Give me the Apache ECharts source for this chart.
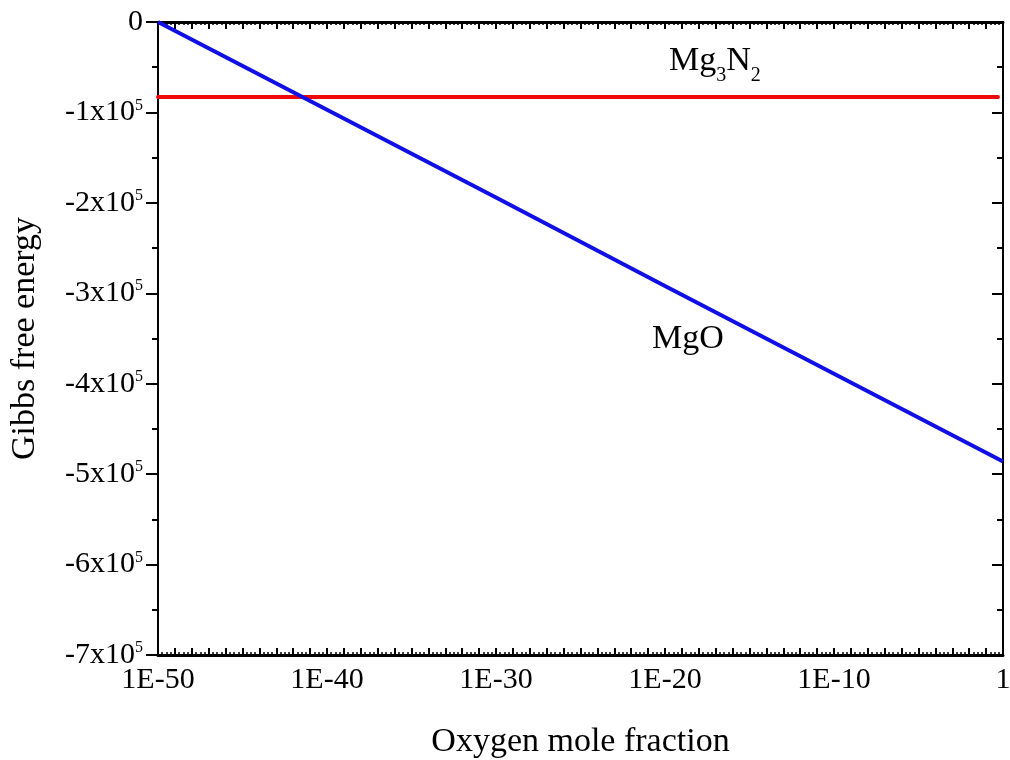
<!DOCTYPE html>
<html>
<head>
<meta charset="utf-8">
<script src="https://cdn.jsdelivr.net/npm/echarts@6/dist/echarts.min.js"></script>
<style>html,body{margin:0;padding:0;background:#fff}#c{width:1010px;height:760px}</style>
</head>
<body>
<div id="c"></div>
<script>
// Oxygen mole fraction (x) and Gibbs free energy values
const mgoX = [1e-50, 1e-40, 1e-30, 1e-20, 1e-10, 1];
const mgoY = [0, -97000, -194000, -292000, -389000, -486000];
const mg3n2X = [1e-50, 1e-40, 1e-30, 1e-20, 1e-10, 0.5];
const mg3n2Y = [-83000, -83000, -83000, -83000, -83000, -83000];
const xTickLabels = ['1E-50', '1E-40', '1E-30', '1E-20', '1E-10', '1'];

const FONT = 'Liberation Serif';
const toPts = (xs, ys) => xs.map((x, i) => [Math.log10(x), ys[i]]);

const chart = echarts.init(document.getElementById('c'), null, {renderer: 'canvas'});

function xLabel(v) {
  const r = Math.round(v);
  if (Math.abs(v - r) > 1e-6 || r % 10 !== 0) return '';
  const idx = (r + 50) / 10;
  return xTickLabels[idx] || '';
}
function yLabel(v) {
  if (v === 0) return '{n|0}';
  const m = Math.round(-v / 100000);
  return '{n|-' + m + 'x10}{s|5}';
}

const xAxisBase = {
  type: 'value', min: -50, max: 0, interval: 1,
  axisLine: {show: true, onZero: false, lineStyle: {color: '#000', width: 3}},
  axisTick: {show: true, inside: true, length: 7, lineStyle: {color: '#000', width: 2}},
  minorTick: {show: true, splitNumber: 4, length: 3, lineStyle: {color: '#000', width: 1.5}},
  splitLine: {show: false}
};
const yAxisBase = {
  type: 'value', min: -700000, max: 0, interval: 100000,
  axisLine: {show: true, onZero: false, lineStyle: {color: '#000', width: 2}},
  splitLine: {show: false}
};

chart.setOption({
  animation: false,
  backgroundColor: '#fff',
  grid: {left: 158, right: 7, top: 22, bottom: 105, containLabel: false, outerBoundsMode: 'none'},
  xAxis: [
    Object.assign({}, xAxisBase, {
      position: 'bottom',
      name: 'Oxygen mole fraction', nameLocation: 'middle', nameGap: 70,
      nameTextStyle: {fontFamily: FONT, fontSize: 34, color: '#000'},
      axisLabel: {formatter: xLabel, fontFamily: FONT, fontSize: 30, color: '#000', margin: 10, showMinLabel: true, showMaxLabel: true, hideOverlap: false}
    }),
    Object.assign({}, xAxisBase, {position: 'top', axisLabel: {show: false}})
  ],
  yAxis: [
    Object.assign({}, yAxisBase, {
      position: 'left',
      name: 'Gibbs free energy', nameLocation: 'middle', nameGap: 116, nameRotate: 90,
      nameTextStyle: {fontFamily: FONT, fontSize: 34, color: '#000'},
      axisTick: {show: true, inside: false, length: 12, lineStyle: {color: '#000', width: 2}},
      minorTick: {show: true, splitNumber: 2, length: 6, lineStyle: {color: '#000', width: 2}},
      axisLabel: {
        formatter: yLabel, margin: 15, color: '#000', hideOverlap: false,
        rich: {
          n: {fontFamily: FONT, fontSize: 30, color: '#000', lineHeight: 30, verticalAlign: 'bottom'},
          s: {fontFamily: FONT, fontSize: 16, color: '#000', lineHeight: 30, verticalAlign: 'top', padding: [0, 0, 14, 0]}
        }
      }
    }),
    Object.assign({}, yAxisBase, {
      position: 'right',
      axisTick: {show: true, inside: true, length: 11, lineStyle: {color: '#000', width: 2}},
      minorTick: {show: true, splitNumber: 2, length: 6, lineStyle: {color: '#000', width: 2}},
      axisLabel: {show: false}
    })
  ],
  series: [
    {
      name: 'Mg3N2', type: 'line', xAxisIndex: 0, yAxisIndex: 0, data: toPts(mg3n2X, mg3n2Y), showSymbol: false, symbol: 'none',
      lineStyle: {color: '#ee0a0a', width: 4, cap: 'round'}, z: 3
    },
    {
      name: 'MgO', type: 'line', xAxisIndex: 0, yAxisIndex: 0, data: toPts(mgoX, mgoY), showSymbol: false, symbol: 'none',
      lineStyle: {color: '#1010e6', width: 4}, z: 4
    }
  ],
  graphic: [
    {
      type: 'text', left: 669, top: 44, z: 10,
      style: {
        text: '{a|Mg}{b|3}{a|N}{b|2}',
        rich: {
          a: {fontFamily: FONT, fontSize: 34, fill: '#000', lineHeight: 36, verticalAlign: 'bottom'},
          b: {fontFamily: FONT, fontSize: 20, fill: '#000', lineHeight: 36, verticalAlign: 'bottom', padding: [0, 0, -8, 0]}
        }
      }
    },
    {
      type: 'text', left: 652, top: 322, z: 10,
      style: {text: 'MgO', fontFamily: FONT, fontSize: 34, fill: '#000'}
    }
  ]
});
</script>
</body>
</html>
